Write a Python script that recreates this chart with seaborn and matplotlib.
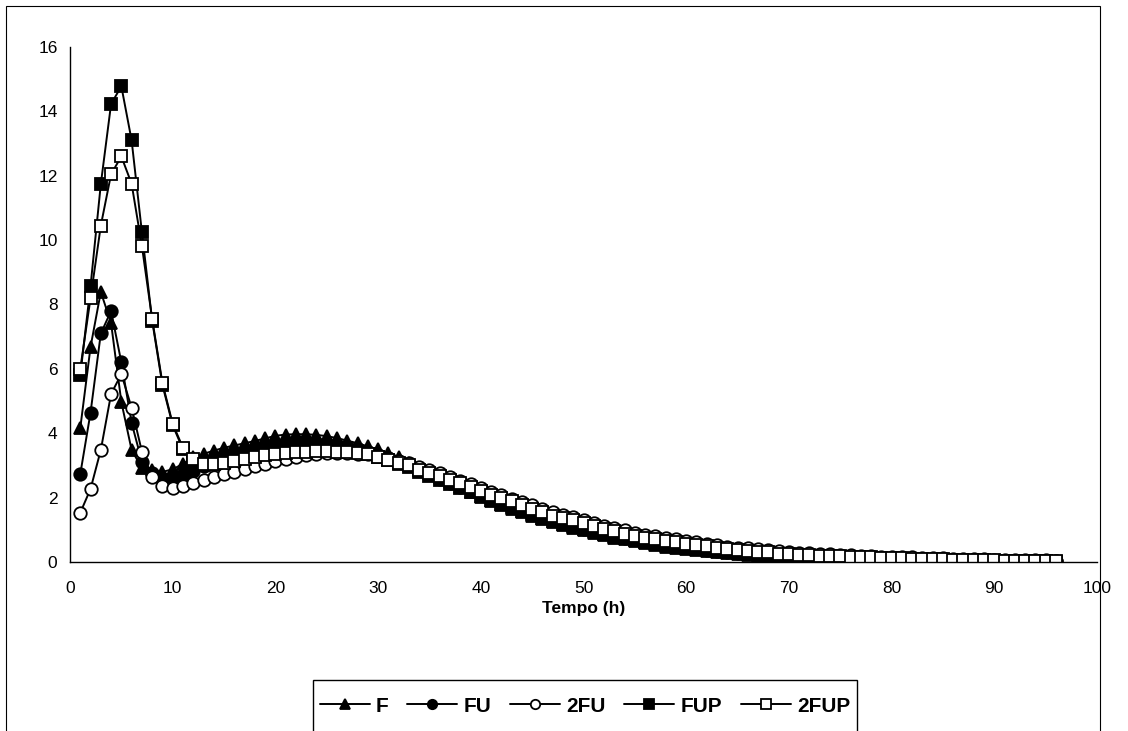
import matplotlib
matplotlib.use("Agg")
import matplotlib.pyplot as plt
from matplotlib.patches import Rectangle
import seaborn as sns
import numpy as np

hours = list(range(1, 97))

F = [4.16, 6.68, 8.39, 7.42, 4.97, 3.48, 2.92, 2.85, 2.80, 2.88,
     3.05, 3.25, 3.36, 3.46, 3.55, 3.62, 3.69, 3.76, 3.84, 3.92,
     3.96, 3.97, 3.97, 3.95, 3.91, 3.85, 3.77, 3.69, 3.59, 3.50,
     3.39, 3.27, 3.08, 2.92, 2.77, 2.62, 2.48, 2.34, 2.18, 2.02,
     1.89, 1.77, 1.65, 1.54, 1.43, 1.33, 1.23, 1.14, 1.06, 0.98,
     0.90, 0.83, 0.76, 0.70, 0.64, 0.58, 0.53, 0.48, 0.44, 0.40,
     0.36, 0.33, 0.30, 0.27, 0.24, 0.22, 0.20, 0.18, 0.16, 0.14,
     0.13, 0.12, 0.10, 0.09, 0.08, 0.08, 0.07, 0.06, 0.06, 0.05,
     0.05, 0.04, 0.04, 0.04, 0.03, 0.03, 0.03, 0.02, 0.02, 0.02,
     0.02, 0.02, 0.01, 0.01, 0.01, 0.01]

FU = [2.73, 4.64, 7.10, 7.80, 6.20, 4.32, 3.12, 2.75, 2.62, 2.62,
      2.70, 2.82, 2.98, 3.10, 3.20, 3.30, 3.40, 3.47, 3.54, 3.60,
      3.65, 3.68, 3.70, 3.70, 3.68, 3.64, 3.58, 3.50, 3.42, 3.33,
      3.22, 3.11, 3.00, 2.86, 2.73, 2.59, 2.46, 2.33, 2.20, 2.07,
      1.95, 1.83, 1.72, 1.61, 1.50, 1.40, 1.30, 1.21, 1.12, 1.04,
      0.96, 0.89, 0.82, 0.76, 0.70, 0.64, 0.59, 0.54, 0.50, 0.46,
      0.42, 0.38, 0.35, 0.32, 0.29, 0.27, 0.24, 0.22, 0.20, 0.18,
      0.17, 0.15, 0.14, 0.13, 0.12, 0.11, 0.10, 0.09, 0.08, 0.08,
      0.07, 0.06, 0.06, 0.05, 0.05, 0.05, 0.04, 0.04, 0.04, 0.03,
      0.03, 0.03, 0.02, 0.02, 0.02, 0.02]

FU2 = [1.53, 2.27, 3.48, 5.22, 5.84, 4.79, 3.43, 2.65, 2.37, 2.29,
       2.37, 2.46, 2.55, 2.63, 2.72, 2.81, 2.89, 2.97, 3.05, 3.13,
       3.20, 3.26, 3.31, 3.35, 3.38, 3.39, 3.39, 3.37, 3.34, 3.29,
       3.23, 3.15, 3.07, 2.96, 2.85, 2.75, 2.64, 2.53, 2.42, 2.31,
       2.19, 2.08, 1.97, 1.87, 1.76, 1.65, 1.55, 1.47, 1.39, 1.31,
       1.22, 1.13, 1.05, 0.98, 0.91, 0.85, 0.80, 0.75, 0.70, 0.65,
       0.61, 0.57, 0.52, 0.48, 0.45, 0.42, 0.39, 0.36, 0.33, 0.31,
       0.29, 0.27, 0.26, 0.24, 0.23, 0.21, 0.20, 0.19, 0.17, 0.16,
       0.15, 0.14, 0.13, 0.12, 0.11, 0.10, 0.09, 0.09, 0.08, 0.07,
       0.07, 0.06, 0.06, 0.05, 0.05, 0.04]

FUP = [5.80, 8.57, 11.74, 14.23, 14.78, 13.10, 10.25, 7.50, 5.50, 4.25,
       3.50, 3.10, 3.00, 3.05, 3.12, 3.20, 3.27, 3.33, 3.40, 3.45,
       3.50, 3.52, 3.54, 3.55, 3.54, 3.52, 3.48, 3.42, 3.35, 3.26,
       3.16, 3.05, 2.94, 2.81, 2.68, 2.56, 2.43, 2.30, 2.17, 2.05,
       1.93, 1.81, 1.70, 1.59, 1.48, 1.38, 1.28, 1.19, 1.11, 1.03,
       0.95, 0.88, 0.81, 0.75, 0.69, 0.63, 0.58, 0.53, 0.49, 0.45,
       0.41, 0.38, 0.34, 0.31, 0.29, 0.26, 0.24, 0.22, 0.20, 0.18,
       0.16, 0.15, 0.14, 0.12, 0.11, 0.10, 0.09, 0.09, 0.08, 0.07,
       0.07, 0.06, 0.06, 0.05, 0.05, 0.04, 0.04, 0.04, 0.03, 0.03,
       0.03, 0.02, 0.02, 0.02, 0.02, 0.01]

FUP2 = [6.00, 8.20, 10.45, 12.05, 12.60, 11.75, 9.82, 7.55, 5.56, 4.29,
        3.55, 3.19, 3.06, 3.04, 3.07, 3.14, 3.19, 3.25, 3.31, 3.36,
        3.39, 3.41, 3.43, 3.46, 3.45, 3.43, 3.42, 3.40, 3.34, 3.26,
        3.18, 3.08, 3.00, 2.87, 2.76, 2.67, 2.55, 2.44, 2.32, 2.22,
        2.09, 1.98, 1.88, 1.77, 1.65, 1.54, 1.44, 1.37, 1.30, 1.22,
        1.12, 1.03, 0.95, 0.88, 0.82, 0.76, 0.71, 0.66, 0.62, 0.57,
        0.53, 0.49, 0.44, 0.40, 0.37, 0.35, 0.32, 0.30, 0.26, 0.24,
        0.23, 0.21, 0.20, 0.19, 0.18, 0.16, 0.15, 0.14, 0.13, 0.12,
        0.11, 0.10, 0.09, 0.08, 0.08, 0.07, 0.06, 0.06, 0.05, 0.05,
        0.04, 0.04, 0.03, 0.03, 0.02, 0.02]

series_names = ["F", "FU", "2FU", "FUP", "2FUP"]
series_values = [F, FU, FU2, FUP, FUP2]
x_ticks = list(range(0, 101, 10))
y_ticks = list(range(0, 17, 2))
x_label = "Tempo (h)"

sns.set_theme(style="white")
plt.rcParams["font.family"] = ["Liberation Sans", "DejaVu Sans"]
plt.rcParams["text.color"] = "black"
plt.rcParams["axes.labelcolor"] = "black"

W, H = 1128, 731
fig = plt.figure(figsize=(W / 100, H / 100), dpi=100)
ax = fig.add_axes([70 / W, (H - 562) / H, 1027 / W, 515 / H])

styles = [("^", "black"), ("o", "black"), ("o", "white"), ("s", "black"), ("s", "white")]
for name, vals, (mk, fc) in zip(series_names, series_values, styles):
    sns.lineplot(x=hours, y=vals, ax=ax, color="black", linewidth=1.4,
                 marker=mk, markersize=9, markerfacecolor=fc,
                 markeredgecolor="black", markeredgewidth=1.3,
                 label=name, sort=False)
handles = ax.get_lines()
if ax.get_legend() is not None:
    ax.get_legend().remove()

ax.set_xlim(0, 100)
ax.set_ylim(0, 16)
ax.set_xticks(x_ticks)
ax.set_yticks(y_ticks)
ax.set_xticklabels([str(v) for v in x_ticks])
ax.set_yticklabels([str(v) for v in y_ticks])
ax.tick_params(axis="both", which="major", direction="out", length=4,
               width=1, color="black", labelsize=12.5, labelcolor="black")
ax.tick_params(axis="x", pad=10)
ax.tick_params(axis="y", pad=5)
for s in ["top", "right"]:
    ax.spines[s].set_visible(False)
for s in ["left", "bottom"]:
    ax.spines[s].set_color("black")
    ax.spines[s].set_linewidth(1.0)
ax.set_ylabel("")
ax.set_xlabel(x_label, fontsize=12.5, fontweight="bold", color="black")
ax.xaxis.set_label_coords(0.5, -(608 - 562) / 515)
ax.xaxis.label.set_va("center")
ax.grid(False)

leg = fig.legend(handles, series_names, loc="center",
                 bbox_to_anchor=(585 / W, 1 - 706 / H), ncol=5,
                 frameon=False, prop={"weight": "bold", "size": 15},
                 handlelength=2.4, handletextpad=0.3, columnspacing=0.9,
                 borderpad=0, borderaxespad=0, markerscale=0.75)
for t in leg.get_texts():
    t.set_color("black")

fig.patches.append(Rectangle((313 / W, -0.05), (857 - 313) / W, 1 - 680 / H + 0.05,
                             transform=fig.transFigure, fill=False,
                             edgecolor="black", linewidth=1.0))
fig.patches.append(Rectangle((6 / W, -0.05), (1100 - 6) / W, 1 - 6 / H + 0.05,
                             transform=fig.transFigure, fill=False,
                             edgecolor="black", linewidth=0.8))

fig.savefig("out.png", dpi=100, facecolor="white")
